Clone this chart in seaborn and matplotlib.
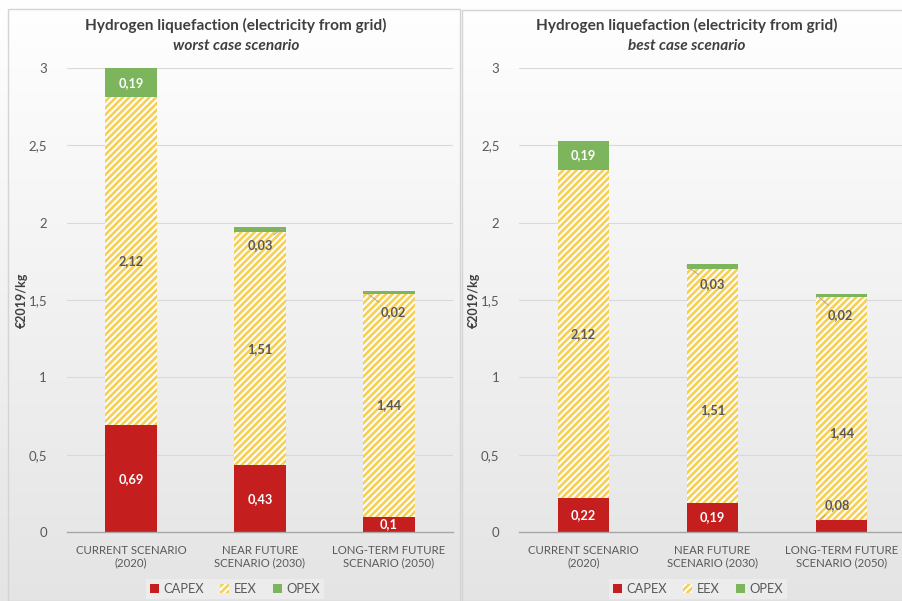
import numpy as np
import pandas as pd
import matplotlib
matplotlib.use("Agg")
import matplotlib.pyplot as plt
from matplotlib.patches import Patch, Rectangle
import seaborn as sns

# ---------------- data ----------------
categories = ["CURRENT SCENARIO\n(2020)", "NEAR FUTURE\nSCENARIO (2030)", "LONG-TERM FUTURE\nSCENARIO (2050)"]
worst_capex = [0.69, 0.43, 0.10]
worst_eex = [2.12, 1.51, 1.44]
worst_opex = [0.19, 0.03, 0.02]
best_capex = [0.22, 0.19, 0.08]
best_eex = [2.12, 1.51, 1.44]
best_opex = [0.19, 0.03, 0.02]
yticks = [0, 0.5, 1, 1.5, 2, 2.5, 3]
ytick_labels = ["0", "0,5", "1", "1,5", "2", "2,5", "3"]
title = "Hydrogen liquefaction (electricity from grid)"
subtitles = ["worst case scenario", "best case scenario"]
series_names = ["CAPEX", "EEX", "OPEX"]

# ---------------- style ----------------
sns.set_theme(style="white")
plt.rcParams["font.family"] = ["Lato", "DejaVu Sans"]
plt.rcParams["hatch.linewidth"] = 1.9

RED = "#C41E1E"
YELLOW = "#F6CF55"
GREEN = "#7DB55C"
GRAY = "#595959"
DARK = "#404040"
HATCH = "/////"

W, H = 903, 601
fig = plt.figure(figsize=(W / 100, H / 100), dpi=100)

# background gradient
bg = fig.add_axes([0, 0, 1, 1], zorder=-10)
grad = np.linspace(1.0, 0.0, 256).reshape(-1, 1)
top = np.array([1.0, 1.0, 1.0])
bot = np.array([0.895, 0.895, 0.895])
img = top * grad[..., None] + bot * (1 - grad[..., None])
bg.imshow(img, aspect="auto", extent=[0, 1, 0, 1], origin="upper")
bg.set_axis_off()
bg.add_patch(Rectangle((8 / W, 0), (460 - 8) / W, 1 - 9 / H, transform=fig.transFigure,
                       fill=False, edgecolor="#d4d4d4", lw=1))
bg.add_patch(Rectangle((462 / W, 0), (W - 462 + 5) / W, 1 - 10 / H, transform=fig.transFigure,
                       fill=False, edgecolor="#d4d4d4", lw=1))

def px2fig(x, y):
    return x / W, 1 - y / H

# small label placements (not data): (bar index, text dx, text y, leader dx, leader y)
small_labels = {
    0: {  # worst
        "opex": [(1, 0.0, 1.855, 0.18, 1.965), (2, 0.03, 1.42, -0.19, 1.555)],
        "capex": [],
        "eex_y": None,
    },
    1: {  # best
        "opex": [(1, 0.0, 1.60, -0.2, 1.72), (2, -0.01, 1.40, -0.19, 1.53)],
        "capex": [(2, -0.03, 0.175, -0.175, 0.075)],
        "eex_y": [None, 0.79, 0.64],
    },
}

panels = [
    dict(capex=worst_capex, eex=worst_eex, opex=worst_opex, left=66.5, tx=236, leg=235, ylab=28),
    dict(capex=best_capex, eex=best_eex, opex=best_opex, left=519, tx=687, leg=698, ylab=480),
]

def fmt(v):
    s = f"{v:.2f}".rstrip("0")
    if s.endswith("."):
        s = s[:-1]
    return s.replace(".", ",")

VAL_FS = 9.2

for p_i, p in enumerate(panels):
    ax = fig.add_axes([p["left"] / W, (H - 532) / H, 387 / W, (532 - 68) / H])
    ax.set_facecolor("none")
    capex = np.array(p["capex"])
    eex = np.array(p["eex"])
    opex = np.array(p["opex"])
    total = capex + eex + opex
    ce = capex + eex
    df = pd.DataFrame({"cat": categories, "total": total, "ce": ce, "capex": capex})

    sns.barplot(data=df, x="cat", y="total", color=GREEN, saturation=1, width=0.4,
                linewidth=0, ax=ax, zorder=2)
    sns.barplot(data=df, x="cat", y="ce", color="white", saturation=1, width=0.4,
                linewidth=0, edgecolor=YELLOW, hatch=HATCH, ax=ax, zorder=3)
    sns.barplot(data=df, x="cat", y="capex", color=RED, saturation=1, width=0.4,
                linewidth=0, ax=ax, zorder=4)

    ax.set_xlim(-0.5, 2.5)
    ax.set_ylim(0, 3)
    ax.set_yticks(yticks)
    ax.set_yticklabels(ytick_labels)
    ax.yaxis.grid(True, color="#d9d9d9", lw=0.8, zorder=0)
    ax.set_axisbelow(True)
    for s in ["top", "right", "left"]:
        ax.spines[s].set_visible(False)
    ax.spines["bottom"].set_color("#a6a6a6")
    ax.spines["bottom"].set_linewidth(1.0)
    ax.spines["bottom"].set_zorder(5)
    ax.tick_params(axis="y", length=0, colors=GRAY, labelsize=9.5, pad=14)
    ax.tick_params(axis="x", length=0, colors=GRAY, labelsize=8.2, pad=9)
    ax.set_xlabel("")
    ax.set_ylabel("€2019/kg", fontsize=9, fontweight="bold", color=DARK)
    ax.yaxis.set_label_coords((p["ylab"] - p["left"]) / 387, 0.5)

    info = small_labels[p_i]
    small_opex = {t[0]: t for t in info["opex"]}
    small_capex = {t[0]: t for t in info["capex"]}
    for i in range(3):
        # CAPEX
        if i in small_capex:
            _, dx, ty, lx, ly = small_capex[i]
            ax.annotate(fmt(capex[i]), xy=(i + lx, ly), xytext=(i + dx, ty), ha="center", va="center",
                        fontsize=VAL_FS, fontweight="bold", color=GRAY, zorder=6,
                        arrowprops=dict(arrowstyle="-", color="#a0a0a0", lw=0.6, shrinkA=1, shrinkB=0))
        else:
            ax.text(i, capex[i] / 2, fmt(capex[i]), ha="center", va="center", fontsize=VAL_FS,
                    fontweight="bold", color="white", zorder=6)
        # EEX
        ey = capex[i] + eex[i] / 2
        if info["eex_y"] is not None and info["eex_y"][i] is not None:
            ey = info["eex_y"][i]
        ax.text(i, ey, fmt(eex[i]), ha="center", va="center", fontsize=VAL_FS,
                fontweight="bold", color=GRAY, zorder=6)
        # OPEX
        if i in small_opex:
            _, dx, ty, lx, ly = small_opex[i]
            ax.annotate(fmt(opex[i]), xy=(i + lx, ly), xytext=(i + dx, ty), ha="center", va="center",
                        fontsize=VAL_FS, fontweight="bold", color=GRAY, zorder=6,
                        arrowprops=dict(arrowstyle="-", color="#a0a0a0", lw=0.6, shrinkA=1, shrinkB=0))
        else:
            ax.text(i, ce[i] + opex[i] / 2, fmt(opex[i]), ha="center", va="center", fontsize=VAL_FS,
                    fontweight="bold", color="white", zorder=6)

    # titles
    fx, fy = px2fig(p["tx"], 25)
    fig.text(fx, fy, title, ha="center", va="center", fontsize=11.1, fontweight="bold", color=DARK)
    fx, fy = px2fig(p["tx"], 46)
    fig.text(fx, fy, subtitles[p_i], ha="center", va="center", fontsize=11.1, fontweight="bold",
             fontstyle="italic", color=DARK)

    # legend
    handles = [Patch(facecolor=RED, edgecolor="none"),
               Patch(facecolor="white", edgecolor=YELLOW, hatch=HATCH, lw=0),
               Patch(facecolor=GREEN, edgecolor="none")]
    lx, ly = px2fig(p["leg"], 589)
    leg = fig.legend(handles, series_names, loc="center", bbox_to_anchor=(lx, ly),
                     bbox_transform=fig.transFigure, ncol=3, frameon=True, fontsize=9.3,
                     handlelength=0.7, handleheight=0.7, handletextpad=0.4, columnspacing=1.2,
                     borderpad=0.3, fancybox=False)
    leg.get_frame().set_facecolor("#efefef")
    leg.get_frame().set_edgecolor("none")
    for t in leg.get_texts():
        t.set_color(GRAY)

fig.savefig("out.png", dpi=100)
